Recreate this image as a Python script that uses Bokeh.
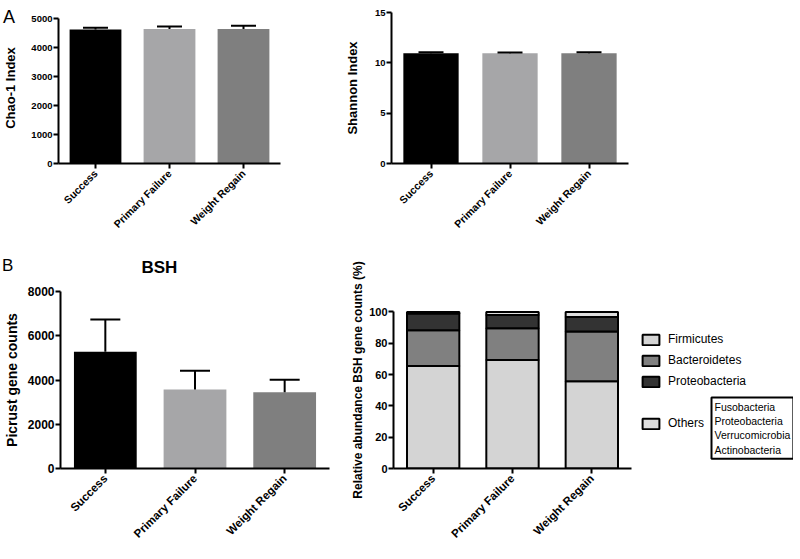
from math import pi
from bokeh.plotting import figure
from bokeh.models import (FactorRange, Range1d, FixedTicker, Label, Legend, LegendItem,
                          ColumnDataSource, Whisker, TeeHead, Div, Spacer)
from bokeh.layouts import column, row
from bokeh.embed import file_html
from bokeh.resources import INLINE

# ---------------- data ----------------
groups = ["Success", "Primary Failure", "Weight Regain"]
group_colors = ["#000000", "#a6a6a8", "#7f7f7f"]

chao1_mean = [4620, 4640, 4640]
chao1_err = [60, 80, 110]
chao1_ticks = [0, 1000, 2000, 3000, 4000, 5000]

shannon_mean = [10.95, 10.94, 10.96]
shannon_err = [0.10, 0.08, 0.10]
shannon_ticks = [0, 5, 10, 15]

bsh_mean = [5280, 3570, 3450]
bsh_err = [1450, 850, 560]
bsh_ticks = [0, 2000, 4000, 6000, 8000]

phyla = ["Firmicutes", "Bacteroidetes", "Proteobacteria", "Others"]
phyla_colors = ["#d4d4d4", "#808080", "#333333", "#dedede"]
firmicutes = [65.5, 69.3, 55.7]
bacteroidetes = [22.8, 20.3, 31.8]
proteobacteria = [10.7, 8.5, 9.3]
others = [1.0, 1.9, 3.2]
others_members = ["Fusobacteria", "Proteobacteria", "Verrucomicrobia", "Actinobacteria"]
pct_ticks = [0, 20, 40, 60, 80, 100]

FONT = "Liberation Sans"


def style_axes(p, yticks, ylabel, tick_size, xlab_size, ylab_size, ylab_standoff):
    for ax in (p.xaxis[0], p.yaxis[0]):
        ax.axis_line_width = 2
        ax.axis_line_color = "black"
        ax.major_tick_line_width = 2
        ax.major_tick_line_color = "black"
        ax.major_tick_out = 5
        ax.major_tick_in = 0
        ax.minor_tick_line_color = None
        ax.major_label_text_font = FONT
        ax.major_label_text_font_style = "bold"
        ax.major_label_text_color = "black"
        ax.major_label_standoff = 1
    p.xaxis.major_label_orientation = pi / 4
    p.xaxis.major_label_text_font_size = xlab_size
    p.xaxis.major_label_standoff = 3
    p.yaxis.major_label_text_font_size = tick_size
    p.yaxis.ticker = FixedTicker(ticks=yticks)
    p.yaxis.bounds = (yticks[0], yticks[-1])
    p.yaxis.axis_label = ylabel
    p.yaxis.axis_label_text_font = FONT
    p.yaxis.axis_label_text_font_style = "bold"
    p.yaxis.axis_label_text_font_size = ylab_size
    p.yaxis.axis_label_text_color = "black"
    p.yaxis.axis_label_standoff = ylab_standoff
    p.xgrid.grid_line_color = None
    p.ygrid.grid_line_color = None
    p.outline_line_color = None


def make_fig(x_range, fw, fh, left, right, top, bottom, yend):
    return figure(x_range=x_range, y_range=Range1d(0, yend),
                  frame_width=fw, frame_height=fh,
                  min_border_left=left, min_border_right=right,
                  min_border_top=top, min_border_bottom=bottom,
                  output_backend="svg", toolbar_location=None,
                  background_fill_color=None, border_fill_color=None)


def mean_bars(p, means, errs, cap):
    src = ColumnDataSource(dict(x=groups, top=means,
                                upper=[m + e for m, e in zip(means, errs)],
                                color=group_colors))
    p.vbar(x="x", top="top", width=0.7, source=src, fill_color="color", line_color=None)
    w = Whisker(source=src, base="x", lower="top", upper="upper", dimension="height",
                line_width=2, line_color="black", lower_head=None,
                upper_head=TeeHead(size=cap, line_width=2, line_color="black"),
                level="overlay")
    p.add_layout(w)


# ---------------- A: Chao-1 ----------------
p1 = make_fig(FactorRange(*groups), 222, 151, 49, 51, 5, 77, 5000 * 151 / 145)
mean_bars(p1, chao1_mean, chao1_err, 25)
style_axes(p1, chao1_ticks, "Chao-1 Index", "9.5px", "10.5px", "13px", 10)

# ---------------- A: Shannon ----------------
p2 = make_fig(FactorRange(*groups), 237, 151, 60, 165, 5, 77, 15)
mean_bars(p2, shannon_mean, shannon_err, 25)
style_axes(p2, shannon_ticks, "Shannon Index", "9.5px", "10.5px", "13px", 12)

# ---------------- B: BSH picrust ----------------
p3 = make_fig(FactorRange(*groups), 269, 177, 49, 4, 51, 76, 8000)
mean_bars(p3, bsh_mean, bsh_err, 30)
style_axes(p3, bsh_ticks, "Picrust gene counts", "12px", "11.5px", "14px", 5)
p3.title.text = "BSH"
p3.title.align = "left"
p3.title.offset = 81
p3.title.standoff = 29
p3.title.text_font = FONT
p3.title.text_font_size = "17px"
p3.title.text_font_style = "bold"
p3.title.text_color = "black"

# ---------------- B: relative abundance ----------------
xpos = [i + 0.5 for i in range(len(groups))]
p4 = make_fig(Range1d(0, 400 / 79.33), 400, 177, 60, 0, 51, 76, 177 / 1.566)
stack_src = ColumnDataSource(dict(x=xpos, Firmicutes=firmicutes, Bacteroidetes=bacteroidetes,
                                  Proteobacteria=proteobacteria, Others=others))
rs = p4.vbar_stack(phyla, x="x", width=0.66, source=stack_src, fill_color=phyla_colors,
                   line_color="black", line_width=2)
style_axes(p4, pct_ticks, "Relative abundance BSH gene counts (%)", "11px", "11.5px", "12px", 1)
p4.xaxis.ticker = FixedTicker(ticks=xpos)
p4.xaxis.major_label_overrides = {x: g for x, g in zip(xpos, groups)}
p4.xaxis.bounds = (0, len(groups))

leg1 = Legend(items=[LegendItem(label=phyla[i], renderers=[rs[i]]) for i in range(3)],
              location=(247, 80), orientation="vertical")
leg2 = Legend(items=[LegendItem(label=phyla[3], renderers=[rs[3]])],
              location=(247, 38), orientation="vertical")
for lg in (leg1, leg2):
    lg.glyph_width = 21
    lg.glyph_height = 13
    lg.label_height = 14
    lg.label_standoff = 7
    lg.spacing = 7
    lg.padding = 0
    lg.margin = 0
    lg.border_line_color = None
    lg.background_fill_alpha = 0
    lg.label_text_font = FONT
    lg.label_text_font_size = "12px"
    lg.label_text_color = "black"
    p4.add_layout(lg)

p4.add_layout(Label(x=318, y=71, x_units="screen", y_units="screen",
                    text="\n".join(others_members), text_font=FONT, text_font_size="10.5px",
                    text_align="left", text_baseline="top", text_color="black",
                    border_line_color="black", border_line_width=2,
                    background_fill_color="white", padding=3))

# panel letters
divA = Div(text="A", styles={"position": "absolute", "left": "-2px", "top": "3px",
                             "font-size": "18px", "font-family": FONT, "line-height": "18px",
                             "color": "black"})
divB = Div(text="B", styles={"position": "absolute", "left": "-3px", "top": "252px",
                             "font-size": "17px", "font-family": FONT, "line-height": "17px",
                             "color": "black"})

layout = column(divA, divB, Spacer(height=7), row(p1, p2), row(p3, p4))
open("out.html", "w").write(file_html(layout, INLINE))
